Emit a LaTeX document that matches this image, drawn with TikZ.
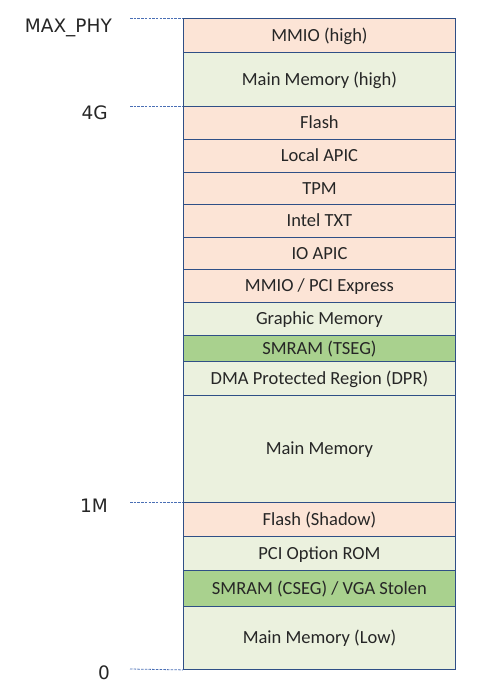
\documentclass[tikz,border=0pt]{standalone}
\usepackage{fontspec}
\newfontfamily\calibri{Carlito}
\newfontfamily\addrfont{DejaVu Sans}
\definecolor{iopink}{HTML}{FCE4D6}
\definecolor{memgreen}{HTML}{EBF1DE}
\definecolor{smmgreen}{HTML}{A9D18E}
\definecolor{edgeblue}{HTML}{2F4F86}
\definecolor{tickblue}{HTML}{4A6FB5}
\definecolor{inkgray}{HTML}{262626}
\begin{document}
\begin{tikzpicture}[x=1pt, y=-1pt,
    region/.style={rectangle, draw=edgeblue, line width=0.9pt, minimum width=272pt, anchor=north west,
      inner sep=0pt, text height=12pt, text depth=0pt, text=inkgray, font=\calibri\fontsize{18.5}{22}\selectfont},
    io/.style={region, fill=iopink},
    mem/.style={region, fill=memgreen},
    smm/.style={region, fill=smmgreen},
    addr/.style={anchor=base east, inner sep=0pt, text=inkgray, font=\addrfont\fontsize{18.5}{22}\selectfont}]
  \useasboundingbox (0,0) rectangle (482,689);
  \path   (183,18)  node[io,  minimum height=34pt]  (mmiohigh) {MMIO (high)}
          (183,52)  node[mem, minimum height=54pt]  (memhigh)  {Main Memory (high)}
          (183,106) node[io,  minimum height=33pt]  (flash)    {Flash}
          (183,139) node[io,  minimum height=33pt]  (lapic)    {Local APIC}
          (183,172) node[io,  minimum height=32pt]  (tpm)      {TPM}
          (183,204) node[io,  minimum height=33pt]  (txt)      {Intel TXT}
          (183,237) node[io,  minimum height=32pt]  (ioapic)   {IO APIC}
          (183,269) node[io,  minimum height=33pt]  (pcie)     {MMIO / PCI Express}
          (183,302) node[mem, minimum height=33pt]  (gfx)      {Graphic Memory}
          (183,335) node[smm, minimum height=26pt]  (tseg)     {SMRAM (TSEG)}
          (183,361) node[mem, minimum height=34pt]  (dpr)      {DMA Protected Region (DPR)}
          (183,395) node[mem, minimum height=107pt] (mainmem)  {Main Memory}
          (183,502) node[io,  minimum height=34pt]  (shadow)   {Flash (Shadow)}
          (183,536) node[mem, minimum height=34pt]  (optrom)   {PCI Option ROM}
          (183,570) node[smm, minimum height=36pt]  (cseg)     {SMRAM (CSEG) / VGA Stolen}
          (183,606) node[mem, minimum height=63pt]  (memlow)   {Main Memory (Low)};

  % address marks
  \coordinate (maxphy) at (130,18);
  \coordinate (fourg)  at (130,106);
  \coordinate (onem)   at (130,502);
  \coordinate (zero)   at (130,669);
  \path[draw=tickblue, line width=0.8pt, dash pattern=on 2.5pt off 1.2pt]
          (maxphy) edge (mmiohigh.north west)
          (fourg)  edge (flash.north west)
          (onem)   edge (shadow.north west)
          (zero)   edge (memlow.south west);
  \draw (112,32)  node[addr] (lmaxphy) {MAX\_PHY};
  \draw (108,119) node[addr] (lfourg)  {4G};
  \draw (108,512) node[addr] (lonem)   {1M};
  \draw (110,679) node[addr] (lzero)   {0};
\end{tikzpicture}
\end{document}
